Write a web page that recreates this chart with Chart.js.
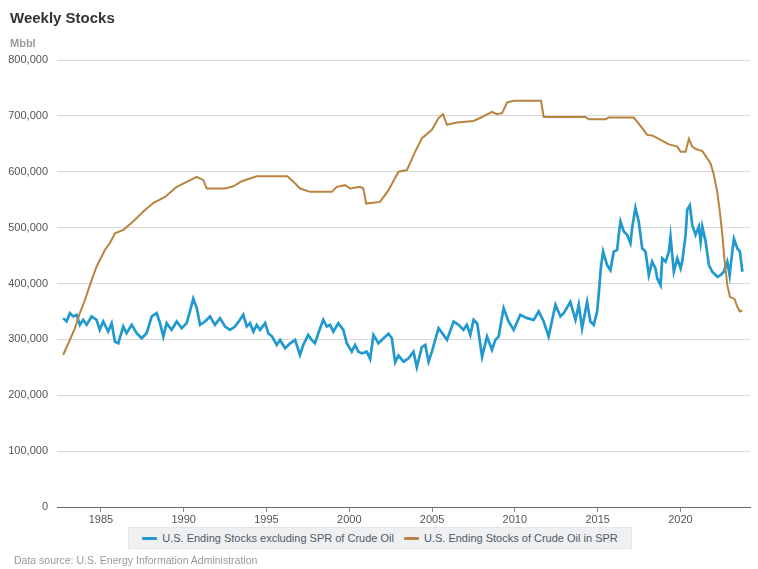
<!DOCTYPE html>
<html>
<head>
<meta charset="utf-8">
<script src="https://cdn.jsdelivr.net/npm/chart.js@4/dist/chart.umd.min.js"></script>
<style>
  html, body { margin:0; padding:0; background:#fff; }
  body { width:758px; height:569px; position:relative; overflow:hidden; font-family:"Liberation Sans", Arial, sans-serif; }
  #wrap { position:absolute; left:0; top:0; width:758px; height:569px; }
  #title { position:absolute; left:10px; top:9px; font-size:15px; font-weight:bold; color:#333; }
  #unit { position:absolute; left:10px; top:37px; font-size:11px; font-weight:bold; color:#999; }
  #legend { position:absolute; left:128px; top:527px; width:504px; height:22px; background:#eef0f2; border:1px solid #e3e5e8; box-sizing:border-box; display:flex; align-items:center; justify-content:center; font-size:11px; color:#4f5b66; }
  .item { display:flex; align-items:center; margin:0 5px; }
  .sw { width:15px; height:3px; margin-right:5px; border-radius:1px; }
  #source { position:absolute; left:14px; top:554px; font-size:10.5px; color:#999; }
</style>
</head>
<body>
<div id="wrap"><canvas id="c" width="758" height="569"></canvas></div>
<div id="title">Weekly Stocks</div>
<div id="unit">Mbbl</div>
<div id="legend"></div>
<div id="source">Data source: U.S. Energy Information Administration</div>
<script>
// Series names
const seriesNames = ["U.S. Ending Stocks excluding SPR of Crude Oil", "U.S. Ending Stocks of Crude Oil in SPR"];
const seriesColors = ["#2199cf", "#b8843f"];

// Commercial crude (excluding SPR), Mbbl (thousands)
const crudeYears = [1982.72,1982.93,1983.13,1983.33,1983.53,1983.73,1983.93,1984.14,1984.44,1984.74,1984.93,1985.14,1985.44,1985.65,1985.85,1986.05,1986.35,1986.55,1986.86,1987.16,1987.46,1987.76,1988.07,1988.37,1988.57,1988.77,1988.97,1989.27,1989.58,1989.88,1990.18,1990.38,1990.58,1990.79,1990.99,1991.29,1991.59,1991.89,1992.19,1992.5,1992.8,
1993.1,1993.4,1993.6,1993.81,1994.01,1994.21,1994.41,1994.61,1994.92,1995.11,1995.34,1995.62,1995.82,1996.13,1996.43,1996.73,1997.02,1997.22,1997.52,1997.73,1997.93,1998.13,1998.43,1998.64,1998.84,1999.04,1999.34,1999.64,1999.85,2000.15,2000.35,2000.55,2000.76,2001.06,2001.26,2001.46,2001.76,2002.07,2002.37,2002.57,2002.77,2002.97,2003.28,2003.58,2003.88,2004.08,2004.38,2004.59,2004.79,2004.99,2005.39,2005.69,2005.9,2006.3,2006.6,2006.9,2007.1,2007.31,2007.51,2007.73,2008.02,2008.32,2008.62,2008.82,2009.02,2009.32,2009.62,2009.93,2010.33,2010.74,2011.14,2011.44,2011.74,2012.04,2012.45,2012.75,2012.95,2013.35,2013.66,2013.86,2014.06,2014.36,2014.56,2014.76,2014.97,2015.06,2015.2,2015.33,2015.57,2015.77,2015.97,2016.18,2016.27,2016.38,2016.58,2016.78,2016.98,2017.08,2017.28,2017.48,2017.69,2017.89,2018.09,2018.29,2018.49,2018.6,2018.8,2018.9,2019.1,2019.3,2019.4,2019.6,2019.81,2020.01,2020.11,2020.31,2020.41,2020.57,2020.71,2020.91,2021.11,2021.22,2021.32,2021.52,2021.72,2021.92,2022.23,2022.42,2022.62,2022.83,2022.97,2023.13,2023.23,2023.43,2023.59,2023.74];
const crudeValues = [338,332,347,341,344,326,335,326,341,335,317,332,314,329,296,293,323,311,326,311,302,311,341,347,329,305,329,317,332,320,329,350,373,356,326,332,341,326,338,323,317,
323,335,344,323,329,314,326,317,329,311,305,290,299,284,293,299,272,290,308,299,293,311,335,323,326,314,329,317,293,278,290,278,275,278,265,308,293,302,310,302,259,271,260,266,278,250,286,290,260,278,320,308,299,332,326,317,326,308,335,328,269,305,281,299,305,356,332,317,344,338,335,350,332,305,362,341,347,367,335,362,320,367,332,326,350,379,430,457,433,424,457,460,487,511,493,487,472,499,535,511,463,457,415,439,427,409,397,445,439,457,484,421,445,427,440,487,532,540,505,487,502,475,502,475,433,421,412,415,421,439,415,457,480,463,457,421];

// Strategic Petroleum Reserve, Mbbl (thousands)
const sprYears = [1982.72,1983.13,1983.43,1983.73,1984.03,1984.44,1984.74,1984.94,1985.24,1985.54,1985.85,1986.35,1986.95,1987.56,1988.16,1988.87,1989.58,1990.18,1990.79,1991.19,1991.39,1992.5,1993.0,1993.51,1994.01,1994.41,1996.26,1996.63,1997.03,1997.64,1998.95,1999.25,1999.75,2000.05,2000.65,2000.85,2001.02,2001.86,2002.37,2002.97,2003.48,2003.98,2004.39,2004.99,2005.39,2005.66,2005.9,2006.5,2007.51,2008.02,2008.62,2008.92,2009.23,2009.53,2009.93,2011.58,2011.74,2014.26,2014.46,2015.47,2015.67,2017.18,2017.69,2017.99,2018.29,2018.8,2019.3,2019.81,2020.01,2020.31,2020.51,2020.71,2020.91,2021.32,2021.62,2021.82,2022.02,2022.22,2022.38,2022.53,2022.67,2022.83,2022.99,2023.27,2023.44,2023.59,2023.74];
const sprValues = [272,299,320,347,370,406,430,442,460,472,490,496,511,529,544,555,573,582,591,585,570,570,574,583,588,592,592,582,570,564,564,573,576,570,573,570,543,546,567,600,603,636,660,675,696,703,684,688,691,698,707,703,705,724,727,727,698,698,694,694,697,697,678,666,665,657,649,645,636,636,659,645,641,637,624,615,594,564,528,487,439,397,376,372,358,350,352];

// Axis ticks
const xTickYears = [1985,1990,1995,2000,2005,2010,2015,2020];
const yTickValues = [0,100000,200000,300000,400000,500000,600000,700000,800000];

const toPoints = (xs, ys) => xs.map((x, i) => ({ x: x, y: ys[i] * 1000 }));

// legend
const leg = document.getElementById('legend');
seriesNames.forEach((n, i) => {
  const it = document.createElement('div'); it.className = 'item';
  const sw = document.createElement('div'); sw.className = 'sw'; sw.style.background = seriesColors[i];
  const tx = document.createElement('span'); tx.textContent = n;
  it.appendChild(sw); it.appendChild(tx); leg.appendChild(it);
});

new Chart(document.getElementById('c'), {
  type: 'line',
  data: {
    datasets: [
      { label: seriesNames[0], data: toPoints(crudeYears, crudeValues), borderColor: seriesColors[0], borderWidth: 2.7, pointRadius: 0, tension: 0, order: 2 },
      { label: seriesNames[1], data: toPoints(sprYears, sprValues), borderColor: seriesColors[1], borderWidth: 2, pointRadius: 0, tension: 0, order: 1 }
    ]
  },
  options: {
    responsive: false,
    animation: false,
    events: [],
    layout: { padding: { left: 0, right: 8, top: 60, bottom: 42 } },
    plugins: { legend: { display: false }, title: { display: false }, tooltip: { enabled: false } },
    scales: {
      x: {
        type: 'linear', min: 1982.35, max: 2024.2,
        afterBuildTicks: s => { s.ticks = xTickYears.map(v => ({ value: v })); },
        afterFit: s => { s.height = 20; },
        ticks: { font: { family: 'Liberation Sans', size: 11 }, color: '#555', padding: 1, maxRotation: 0, callback: v => String(v) },
        grid: { drawOnChartArea: false, drawTicks: true, tickLength: 5, color: '#888' },
        border: { display: true, color: '#666', width: 1 }
      },
      y: {
        min: 0, max: 800000,
        afterBuildTicks: s => { s.ticks = yTickValues.map(v => ({ value: v })); },
        afterFit: s => { s.width = 57; },
        ticks: { font: { family: 'Liberation Sans', size: 11 }, color: '#555', padding: 9, callback: v => v.toLocaleString('en-US') },
        grid: { color: '#d9d9d9', lineWidth: 1, drawTicks: false },
        border: { display: false }
      }
    }
  }
});
</script>
</body>
</html>
